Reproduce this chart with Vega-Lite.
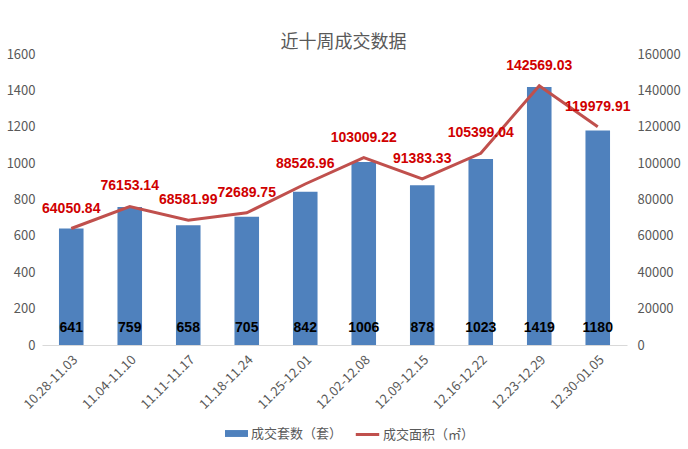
{
  "$schema": "https://vega.github.io/schema/vega-lite/v6.json",
  "autosize": {"type": "none"},
  "width": 585,
  "height": 291,
  "padding": {"left": 42, "top": 54, "right": 61, "bottom": 104},
  "background": "white",
  "title": {
    "text": "近十周成交数据",
    "font": "Noto Sans CJK SC",
    "fontSize": 18,
    "fontWeight": "normal",
    "color": "#595959",
    "anchor": "middle",
    "dx": 9,
    "offset": -4
  },
  "data": {
    "values": [
      {"week": "10.28-11.03", "count": 641, "area": 64050.84, "areaLabel": "64050.84"},
      {"week": "11.04-11.10", "count": 759, "area": 76153.14, "areaLabel": "76153.14"},
      {"week": "11.11-11.17", "count": 658, "area": 68581.99, "areaLabel": "68581.99"},
      {"week": "11.18-11.24", "count": 705, "area": 72689.75, "areaLabel": "72689.75"},
      {"week": "11.25-12.01", "count": 842, "area": 88526.96, "areaLabel": "88526.96"},
      {"week": "12.02-12.08", "count": 1006, "area": 103009.22, "areaLabel": "103009.22"},
      {"week": "12.09-12.15", "count": 878, "area": 91383.33, "areaLabel": "91383.33"},
      {"week": "12.16-12.22", "count": 1023, "area": 105399.04, "areaLabel": "105399.04"},
      {"week": "12.23-12.29", "count": 1419, "area": 142569.03, "areaLabel": "142569.03"},
      {"week": "12.30-01.05", "count": 1180, "area": 119979.91, "areaLabel": "119979.91"}
    ]
  },
  "encoding": {
    "x": {
      "field": "week",
      "type": "nominal",
      "sort": null,
      "scale": {"paddingInner": 0.58, "paddingOuter": 0.29},
      "axis": {
        "title": null,
        "labelAngle": -45,
        "labelFont": "Noto Sans CJK SC",
        "labelFontSize": 13,
        "labelColor": "#595959",
        "ticks": false,
        "domainColor": "#D9D9D9",
        "labelPadding": 8
      }
    }
  },
  "layer": [
    {
      "layer": [
        {
          "mark": {"type": "bar"},
          "encoding": {
            "y": {
              "field": "count",
              "type": "quantitative",
              "scale": {"domain": [0, 1600], "nice": false},
              "axis": {
                "title": null,
                "values": [0, 200, 400, 600, 800, 1000, 1200, 1400, 1600],
                "format": "d",
                "grid": false,
                "domain": false,
                "ticks": false,
                "labelOverlap": false,
                "labelFont": "Noto Sans CJK SC",
                "labelFontSize": 13,
                "labelColor": "#595959",
                "labelPadding": 7
              }
            },
            "fill": {
              "datum": "成交套数（套）",
              "type": "nominal",
              "scale": {"range": ["#4F81BD"]},
              "legend": {
                "title": null,
                "orient": "none",
                "legendX": 182,
                "legendY": 367,
                "symbolType": "M-1,-0.3H1V0.3H-1Z",
                "symbolSize": 529,
                "labelFont": "Noto Sans CJK SC",
                "labelFontSize": 13,
                "labelColor": "#595959",
                "labelOffset": 2
              }
            }
          }
        },
        {
          "mark": {"type": "text", "font": "Liberation Sans", "fontWeight": "bold", "fontSize": 14, "color": "#000000", "baseline": "middle"},
          "encoding": {
            "y": {
              "datum": 93,
              "type": "quantitative",
              "axis": {
                "title": null,
                "values": [0, 200, 400, 600, 800, 1000, 1200, 1400, 1600],
                "format": "d",
                "grid": false,
                "domain": false,
                "ticks": false,
                "labelOverlap": false,
                "labelFont": "Noto Sans CJK SC",
                "labelFontSize": 13,
                "labelColor": "#595959",
                "labelPadding": 7
              }
            },
            "text": {"field": "count", "type": "quantitative"}
          }
        }
      ]
    },
    {
      "layer": [
        {
          "mark": {"type": "line", "color": "#C0504D", "strokeWidth": 3},
          "encoding": {
            "y": {
              "field": "area",
              "type": "quantitative",
              "scale": {"domain": [0, 160000], "nice": false},
              "axis": {
                "title": null,
                "orient": "right",
                "values": [0, 20000, 40000, 60000, 80000, 100000, 120000, 140000, 160000],
                "format": "d",
                "grid": false,
                "domain": false,
                "ticks": false,
                "labelOverlap": false,
                "labelFont": "Noto Sans CJK SC",
                "labelFontSize": 13,
                "labelColor": "#595959",
                "labelPadding": 10
              }
            },
            "stroke": {
              "datum": "成交面积（㎡）",
              "type": "nominal",
              "scale": {"range": ["#C0504D"]},
              "legend": {
                "title": null,
                "orient": "none",
                "legendX": 312,
                "legendY": 367,
                "symbolType": "stroke",
                "symbolStrokeWidth": 3,
                "symbolSize": 550,
                "labelFont": "Noto Sans CJK SC",
                "labelFontSize": 13,
                "labelColor": "#595959",
                "labelOffset": 2
              }
            }
          }
        },
        {
          "mark": {"type": "text", "font": "Liberation Sans", "fontWeight": "bold", "fontSize": 14, "color": "#D00000", "baseline": "middle", "dy": -20},
          "encoding": {
            "y": {
              "field": "area",
              "type": "quantitative",
              "axis": {
                "title": null,
                "orient": "right",
                "values": [0, 20000, 40000, 60000, 80000, 100000, 120000, 140000, 160000],
                "format": "d",
                "grid": false,
                "domain": false,
                "ticks": false,
                "labelOverlap": false,
                "labelFont": "Noto Sans CJK SC",
                "labelFontSize": 13,
                "labelColor": "#595959",
                "labelPadding": 10
              }
            },
            "text": {"field": "areaLabel", "type": "nominal"}
          }
        }
      ]
    }
  ],
  "resolve": {"scale": {"y": "independent"}},
  "config": {"view": {"stroke": null}, "axis": {"labelOverlap": false, "labelFlush": false}}
}
